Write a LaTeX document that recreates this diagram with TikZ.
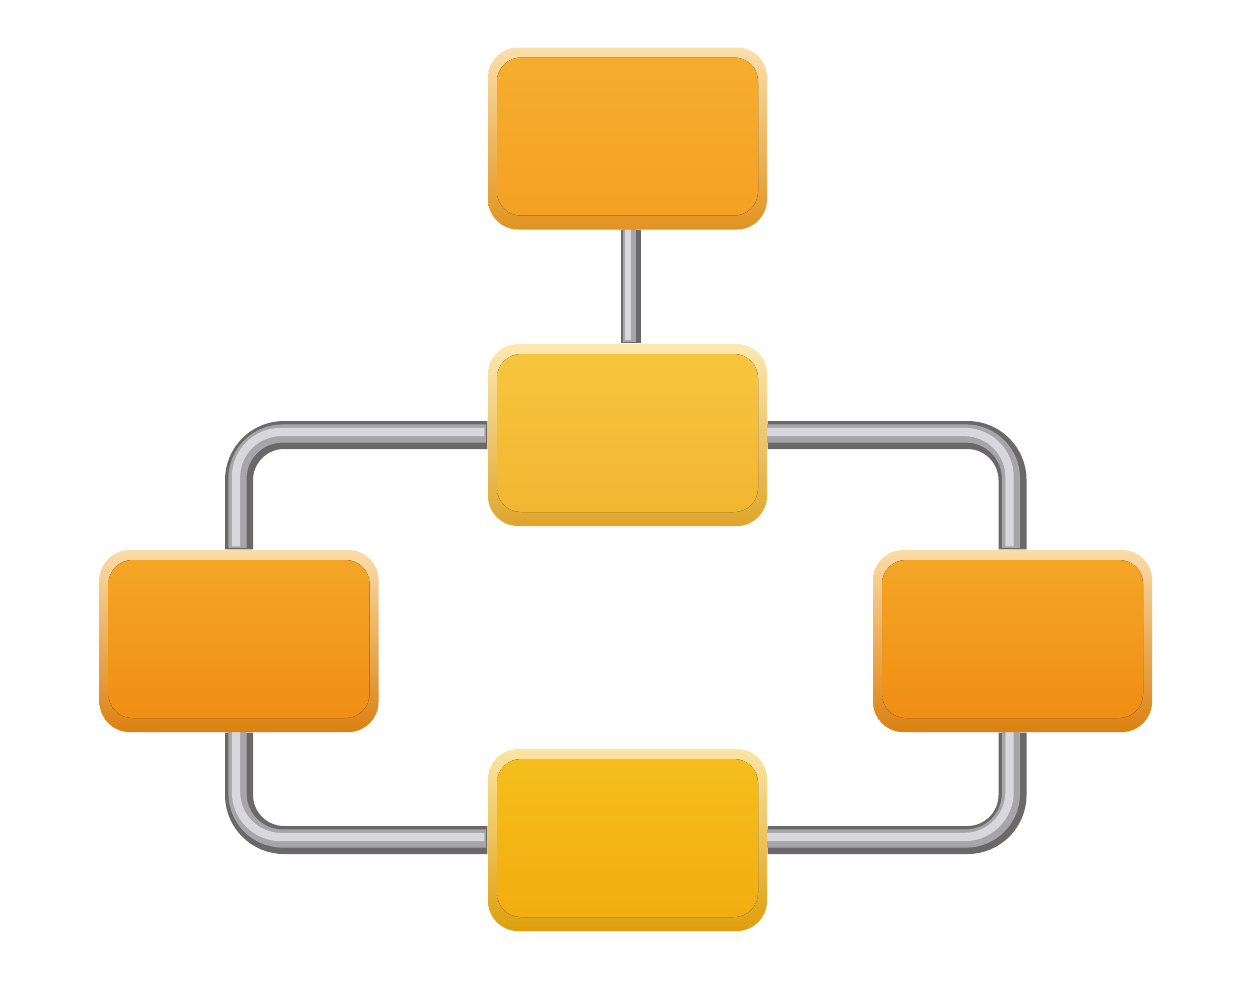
\documentclass[tikz,border=0pt]{standalone}
\usepackage{tikz}
\usetikzlibrary{backgrounds}

\definecolor{TopFaceA}{HTML}{F6AE2E}
\definecolor{TopFaceB}{HTML}{F4A022}
\definecolor{MidFaceA}{HTML}{F7C73E}
\definecolor{MidFaceB}{HTML}{F2B430}
\definecolor{SideFaceA}{HTML}{F5A727}
\definecolor{SideFaceB}{HTML}{EF8C12}
\definecolor{BotFaceA}{HTML}{F5BF1E}
\definecolor{BotFaceB}{HTML}{F2AC0E}
\definecolor{PipeDark}{HTML}{6A686A}
\definecolor{PipeMid}{HTML}{A6A6AA}
\definecolor{PipeLight}{HTML}{D8D8DC}

\tikzset{
  flowbox/.style 2 args={rectangle, rounded corners=0.3cm,
    minimum width=2.79cm, minimum height=1.82cm, inner sep=0pt,
    top color=#1!40!white, middle color=#1!85!white, bottom color=#2!92!black,
    path picture={
      \fill[rounded corners=0.24cm, top color=#1, bottom color=#2]
        ([shift={(0.09,0.14)}]path picture bounding box.south west) rectangle
        ([shift={(-0.09,-0.1)}]path picture bounding box.north east);
    }},
  pipe/.style={line width=#1, PipeDark, rounded corners=0.45cm,
    postaction={draw=PipeMid, line width=0.65*#1,
      transform canvas={shift={(-0.015,0.015)}}},
    postaction={draw=PipeLight, line width=0.3*#1,
      transform canvas={shift={(-0.03,0.03)}}}},
}

\begin{document}
\begin{tikzpicture}
  \useasboundingbox (0,0) rectangle (12.51,9.80);

  % Boxes
  \node[flowbox={TopFaceA}{TopFaceB}]   (top)    at (6.275,8.415) {};
  \node[flowbox={MidFaceA}{MidFaceB}]   (mid)    at (6.275,5.45)  {};
  \node[flowbox={SideFaceA}{SideFaceB}] (left)   at (2.39,3.39)   {};
  \node[flowbox={SideFaceA}{SideFaceB}] (right)  at (10.125,3.39) {};
  \node[flowbox={BotFaceA}{BotFaceB}]   (bottom) at (6.275,1.40)  {};

  % Pipes
  \begin{scope}[on background layer]
    \draw[pipe=0.2cm] ([xshift=0.03cm]top.south) -- ([xshift=0.03cm]mid.north);
    \draw[pipe=0.28cm] (mid.west) -| (left.north);
    \draw[pipe=0.28cm] (left.south) |- (bottom.west);
    \draw[pipe=0.28cm] (mid.east) -| (right.north);
    \draw[pipe=0.28cm] (right.south) |- (bottom.east);
  \end{scope}

\end{tikzpicture}
\end{document}
